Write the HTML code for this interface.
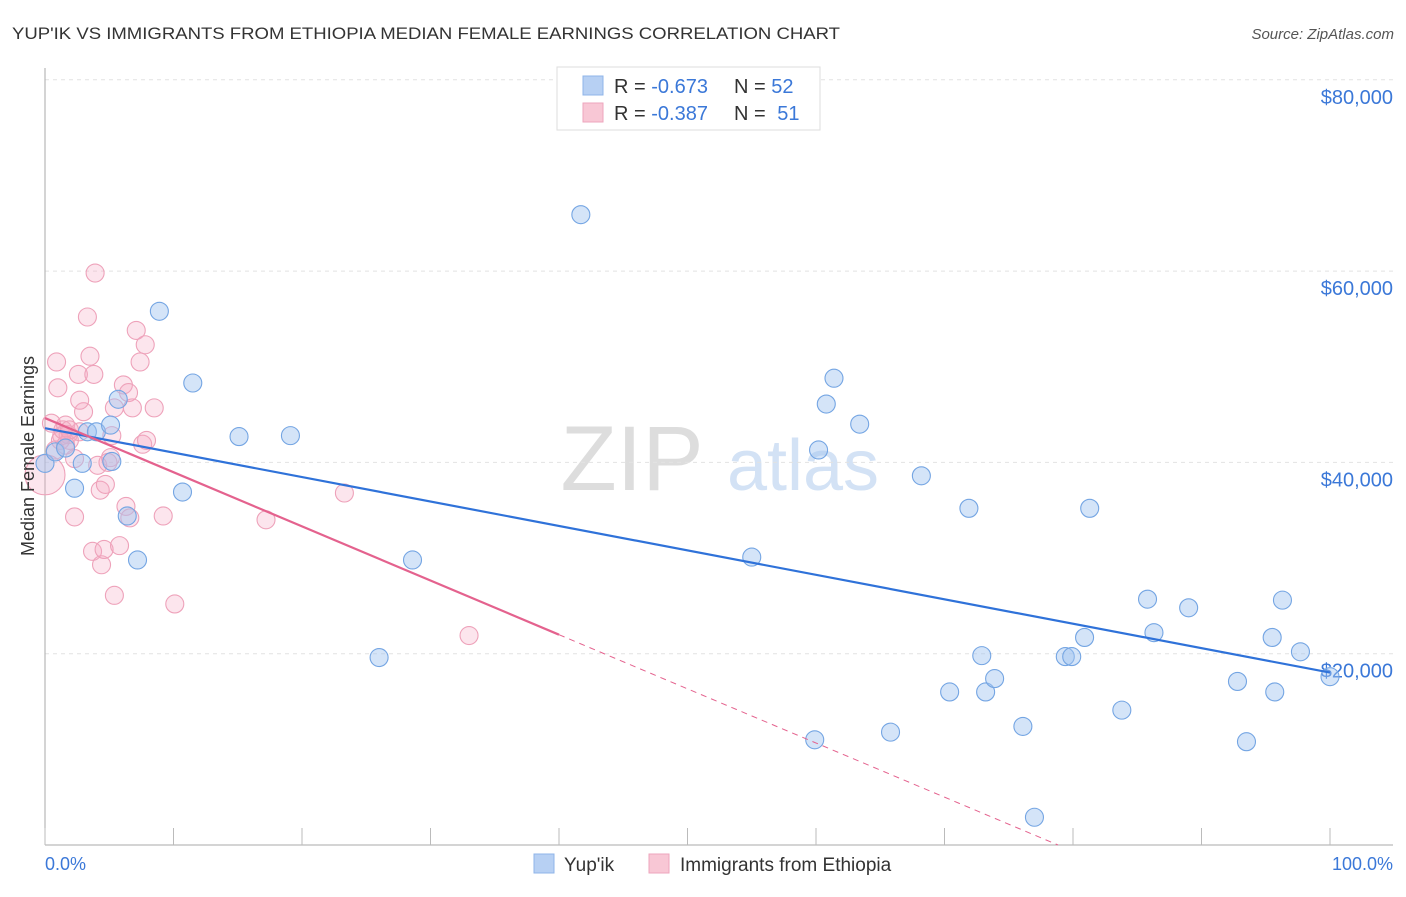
<!DOCTYPE html>
<html><head><meta charset="utf-8"><style>
body{margin:0;background:#fff;font-family:"Liberation Sans",sans-serif}
svg text{font-family:"Liberation Sans",sans-serif}
</style></head><body>
<svg id="c" width="1406" height="892" viewBox="0 0 1406 892">
<text x="12" y="39" font-size="17" fill="#333" textLength="828" lengthAdjust="spacingAndGlyphs">YUP'IK VS IMMIGRANTS FROM ETHIOPIA MEDIAN FEMALE EARNINGS CORRELATION CHART</text>
<text x="1394" y="39" font-size="15" fill="#555" font-style="italic" text-anchor="end">Source: ZipAtlas.com</text>
<g>
<text x="632" y="490" font-size="92" font-family="Liberation Serif" fill="#ddd" text-anchor="middle">ZIP</text>
<text x="803" y="490" font-size="72" fill="#d3e2f5" text-anchor="middle">atlas</text>
</g>
<g id="grid"></g>
<g id="axes"></g>
<g id="pts"></g>
<g id="lines"></g>
<text transform="translate(34,456) rotate(-90)" font-size="18" fill="#333" text-anchor="middle">Median Female Earnings</text>
<text x="45" y="870" font-size="18" fill="#3b78d8">0.0%</text>
<text x="1393" y="870" font-size="18" fill="#3b78d8" text-anchor="end">100.0%</text>
<g>
<rect x="557" y="67" width="263" height="63" fill="#fff" stroke="#ddd"/>
<rect x="583" y="76" width="20" height="19" fill="#b7d0f3" stroke="#8fb4e8"/>
<rect x="583" y="103" width="20" height="19" fill="#f8c7d5" stroke="#eea6bd"/>
<text x="614" y="93" font-size="20" fill="#333">R = <tspan fill="#3b78d8">-0.673</tspan></text>
<text x="734" y="93" font-size="20" fill="#333">N = <tspan fill="#3b78d8">52</tspan></text>
<text x="614" y="120" font-size="20" fill="#333">R = <tspan fill="#3b78d8">-0.387</tspan></text>
<text x="734" y="120" font-size="20" fill="#333">N = <tspan fill="#3b78d8" dx="6">51</tspan></text>
</g>
<g>
<rect x="534" y="854" width="20" height="19" fill="#b7d0f3" stroke="#8fb4e8"/>
<text x="564" y="871" font-size="19" fill="#333">Yup'ik</text>
<rect x="649" y="854" width="20" height="19" fill="#f8c7d5" stroke="#eea6bd"/>
<text x="680" y="871" font-size="19" fill="#333">Immigrants from Ethiopia</text>
</g>
</svg>
<script>
const yTicks=[20000,40000,60000,80000];
const yTickLabels=["$20,000","$40,000","$60,000","$80,000"];
const xTicks=[0,10,20,30,40,50,60,70,80,90,100];
const blueX=[0,0.8,1.6,2.3,2.9,3.3,4.0,5.1,5.2,5.7,6.4,7.2,8.9,10.7,11.5,15.1,19.1,26.0,28.6,41.7,55.0,59.9,60.2,60.8,61.4,63.4,65.8,68.2,70.4,71.9,72.9,73.2,73.9,76.1,77.0,79.4,79.9,80.9,81.3,83.8,85.8,86.3,89.0,92.8,93.5,95.5,95.7,96.3,97.7,100];
const blueY=[39900,41100,41500,37300,39900,43200,43200,43900,40100,46600,34400,29800,55800,36900,48300,42700,42800,19600,29800,65900,30100,11000,41300,46100,48800,44000,11800,38600,16000,35200,19800,16000,17400,12400,2900,19700,19700,21700,35200,14100,25700,22200,24800,17100,10800,21700,16000,25600,20200,17600];
const pinkX=[0,0.5,0.8,1.0,0.9,1.3,1.6,1.8,1.9,2.3,2.3,2.6,2.7,3.0,3.3,3.5,3.7,3.8,3.9,4.1,4.3,4.4,4.6,4.7,5.1,5.2,5.4,5.4,5.8,6.1,6.3,6.5,6.6,6.8,7.1,7.4,7.6,7.8,7.9,8.5,9.2,10.1,17.2,23.3,33.0,2.7,4.9,1.2,1.4,1.9,1.6];
const pinkY=[38700,44100,41300,47800,50500,42800,43900,42900,42300,34300,40400,49200,43200,45300,55200,51100,30700,49200,59800,39700,37100,29300,30900,37700,40500,42800,45700,26100,31300,48100,35400,47300,34200,45700,53800,50500,41900,52300,42300,45700,34400,25200,34000,36800,21900,46500,40000,42300,43400,43400,41800];
const NS="http://www.w3.org/2000/svg";
const X0=45,X1=1330,Y0=845,PY=191.3/20000;
const sx=v=>X0+(X1-X0)*v/100;
const sy=v=>Y0-v*PY;
function mk(tag,attrs,parent){const e=document.createElementNS(NS,tag);for(const k in attrs)e.setAttribute(k,attrs[k]);parent.appendChild(e);return e;}
const grid=document.getElementById('grid'),axes=document.getElementById('axes'),pts=document.getElementById('pts'),lines=document.getElementById('lines');
yTicks.forEach((t,i)=>{
  const l=mk('line',{x1:45,x2:1393,y1:sy(t),y2:sy(t),stroke:'#e2e2e2','stroke-dasharray':'4,4'},grid);
  
  
  const tx=mk('text',{x:1393,y:sy(t)+24,'font-size':20,fill:'#3b78d8','text-anchor':'end'},axes);
  tx.textContent=yTickLabels[i];
  
  
});
const ya=mk('line',{x1:45,x2:45,y1:68,y2:845,stroke:'#aaa'},axes);


const xa=mk('line',{x1:45,x2:1393,y1:845,y2:845,stroke:'#aaa'},axes);


xTicks.forEach(t=>{
  const l=mk('line',{x1:sx(t),x2:sx(t),y1:828,y2:845,stroke:'#bbb'},axes);
  
  
});
function drawPts(xs,ys,fill,stroke,name){
  xs.forEach((x,i)=>{
    const c=mk('circle',{cx:sx(x),cy:sy(ys[i]),r:(name==='pink-point'&&i===0)?20:9,fill:fill,stroke:stroke,'stroke-width':1.1},pts);
    
    
  });
}
drawPts(pinkX,pinkY,'rgba(245,170,195,0.3)','#eea2ba','pink-point');
drawPts(blueX,blueY,'rgba(160,196,240,0.45)','#74a5e3','blue-point');
function reg(xs,ys){const n=xs.length;let mx=0,my=0;xs.forEach((x,i)=>{mx+=x;my+=ys[i]});mx/=n;my/=n;let a=0,b=0;xs.forEach((x,i)=>{a+=(x-mx)*(ys[i]-my);b+=(x-mx)*(x-mx)});const m=a/b;return [m,my-m*mx];}
const [bm,bb]=reg(blueX,blueY);
const bl=mk('line',{x1:sx(0),y1:sy(bb),x2:sx(100),y2:sy(bb+bm*100),stroke:'#2f72d9','stroke-width':2.2},lines);


const [pm,pb]=reg(pinkX,pinkY);
const pl=mk('line',{x1:sx(0),y1:sy(pb),x2:sx(40),y2:sy(pb+pm*40),stroke:'#e4628e','stroke-width':2.2},lines);


let xe=Math.min(100,-pb/pm);
const pd=mk('line',{x1:sx(40),y1:sy(pb+pm*40),x2:sx(xe),y2:sy(pb+pm*xe),stroke:'#e4628e','stroke-width':1,'stroke-dasharray':'6,5'},lines);


</script>
</body></html>
